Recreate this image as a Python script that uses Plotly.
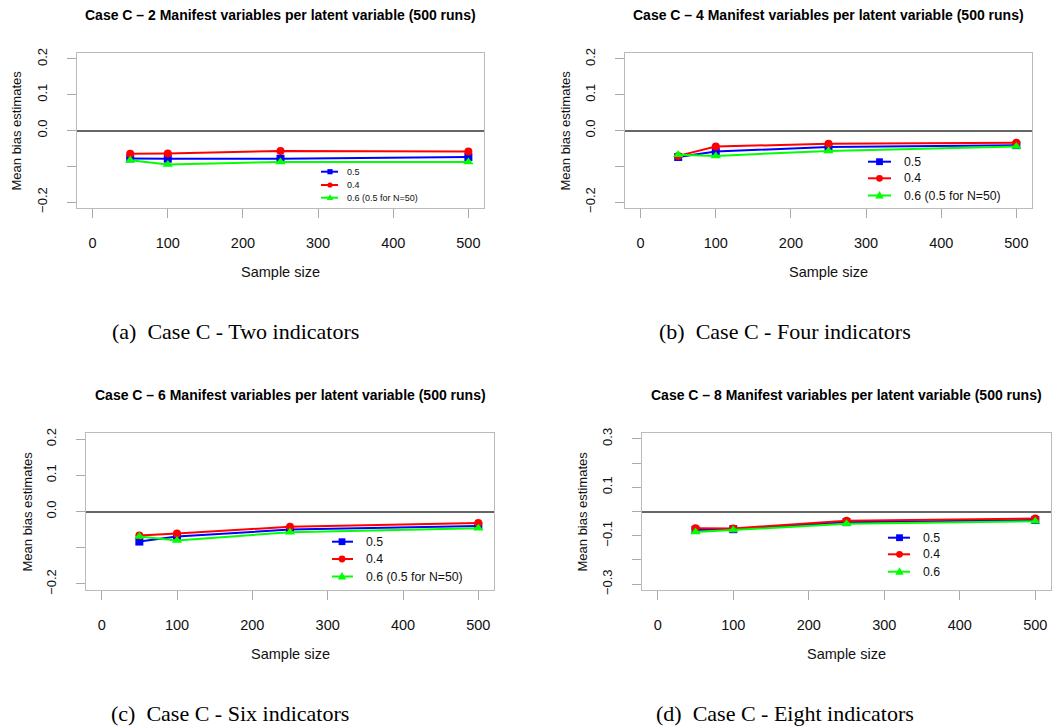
import plotly.graph_objects as go

# The page body has an 8px margin, so the figure is drawn 8px in from the
# window's top-left corner; pixel positions below are window pixels.
OFF = 8
W, H = 1060 - OFF, 727 - OFF

# ---------------- data ----------------
sample_size = [50, 100, 250, 500]
x_ticks = [0, 100, 200, 300, 400, 500]

# (a) two indicators
a_05 = [-0.078, -0.079, -0.079, -0.074]
a_04 = [-0.065, -0.064, -0.057, -0.059]
a_06 = [-0.083, -0.095, -0.088, -0.088]
# (b) four indicators
b_05 = [-0.074, -0.059, -0.046, -0.041]
b_04 = [-0.071, -0.045, -0.037, -0.034]
b_06 = [-0.068, -0.071, -0.057, -0.045]
# (c) six indicators
c_05 = [-0.083, -0.069, -0.050, -0.040]
c_04 = [-0.066, -0.061, -0.042, -0.032]
c_06 = [-0.069, -0.080, -0.057, -0.046]
# (d) eight indicators
d_05 = [-0.076, -0.073, -0.044, -0.035]
d_04 = [-0.069, -0.070, -0.038, -0.029]
d_06 = [-0.085, -0.076, -0.051, -0.040]

legend_labels_abc = ["0.5", "0.4", "0.6 (0.5 for N=50)"]
legend_labels_d = ["0.5", "0.4", "0.6"]

titles = [
    "Case C \u2013 2 Manifest variables per latent variable (500 runs)",
    "Case C \u2013 4 Manifest variables per latent variable (500 runs)",
    "Case C \u2013 6 Manifest variables per latent variable (500 runs)",
    "Case C \u2013 8 Manifest variables per latent variable (500 runs)",
]
captions = [
    "(a)\u00a0\u00a0Case C - Two indicators",
    "(b)\u00a0\u00a0Case C - Four indicators",
    "(c)\u00a0\u00a0Case C - Six indicators",
    "(d)\u00a0\u00a0Case C - Eight indicators",
]
y_tickvals_small = [-0.2, -0.1, 0.0, 0.1, 0.2]
y_ticktext_small = ["\u22120.2", "", "0.0", "0.1", "0.2"]
y_tickvals_large = [-0.3, -0.2, -0.1, 0.0, 0.1, 0.2, 0.3]
y_ticktext_large = ["\u22120.3", "", "\u22120.1", "", "0.1", "", "0.3"]

colors = ["#0000FF", "#FF0000", "#00FF00"]
symbols = ["square", "circle", "triangle-up"]

panels = [
    dict(series=[a_05, a_04, a_06], box=(77, 484, 53, 208), yr=0.2167,
         tv=y_tickvals_small, tt=y_ticktext_small, labels=legend_labels_abc,
         leg=dict(l0=321, l1=338, mc=330, tx=345, ys=[171.7, 185.0, 197.7], fs=9, ms=2.6),
         ytitle_x=16, cap_x=235),
    dict(series=[b_05, b_04, b_06], box=(625, 1032, 53, 208), yr=0.2167,
         tv=y_tickvals_small, tt=y_ticktext_small, labels=legend_labels_abc,
         leg=dict(l0=868, l1=891, mc=879.5, tx=902, ys=[161.7, 178.3, 195.5], fs=12.3, ms=3.4),
         ytitle_x=565, cap_x=785),
    dict(series=[c_05, c_04, c_06], box=(86, 494, 433, 590), yr=0.2167,
         tv=y_tickvals_small, tt=y_ticktext_small, labels=legend_labels_abc,
         leg=dict(l0=332, l1=353, mc=342, tx=364, ys=[541.7, 559.0, 576.5], fs=12.3, ms=3.4),
         ytitle_x=27, cap_x=230),
    dict(series=[d_05, d_04, d_06], box=(642, 1051, 433, 590), yr=0.324,
         tv=y_tickvals_large, tt=y_ticktext_large, labels=legend_labels_d,
         leg=dict(l0=888, l1=910, mc=899.5, tx=920.5, ys=[537.7, 554.3, 571.7], fs=12.3, ms=3.4),
         ytitle_x=582, cap_x=785),
]

FONT = "Liberation Sans, Arial, Helvetica, sans-serif"
SERIF = "Liberation Serif, Times New Roman, serif"


def px(x):
    return (x - OFF) / W


def py(y):
    return 1 - (y - OFF) / H


fig = go.Figure()
layout = dict(
    width=W, height=H, margin=dict(l=0, r=0, t=0, b=0, pad=0, autoexpand=False),
    paper_bgcolor="white", plot_bgcolor="white", showlegend=False,
    font=dict(family=FONT, color="black"),
)
annotations = []
shapes = []

for i, p in enumerate(panels):
    k = "" if i == 0 else str(i + 1)
    l, r, t, b = p["box"]
    layout["xaxis" + k] = dict(
        domain=[px(l), px(r)], anchor="y" + k, range=[-20.8, 520.8], automargin=False,
        tickmode="array", tickvals=x_ticks, ticks="outside", ticklen=9,
        tickcolor="#aaaaaa", tickwidth=1, showline=True, mirror=True,
        linecolor="#bbbbbb", linewidth=1, showgrid=False, zeroline=False,
        tickfont=dict(size=14.5, family=FONT, color="#111111"), ticklabelstandoff=13,
    )
    layout["yaxis" + k] = dict(
        domain=[py(b), py(t)], anchor="x" + k, range=[-p["yr"], p["yr"]], automargin=False,
        tickmode="array", tickvals=p["tv"], ticktext=p["tt"], tickangle=-90,
        ticks="outside", ticklen=9, tickcolor="#aaaaaa", tickwidth=1,
        showline=True, mirror=True, linecolor="#bbbbbb", linewidth=1,
        showgrid=False, zeroline=True, zerolinecolor="#666666", zerolinewidth=1.5,
        tickfont=dict(size=13, family=FONT, color="#111111"), ticklabelstandoff=15,
    )
    for vals, col, sym, lab in zip(p["series"], colors, symbols, p["labels"]):
        fig.add_trace(go.Scatter(
            x=sample_size, y=vals, mode="lines+markers", name=lab,
            xaxis="x" + k, yaxis="y" + k,
            line=dict(color=col, width=2),
            marker=dict(symbol=sym, size=9 if sym == "triangle-up" else 8, color=col),
            showlegend=False,
        ))
    cx = (l + r) / 2
    # main title
    annotations.append(dict(text="<b>" + titles[i] + "</b>", x=px(cx), y=py(t - 38),
                            xref="paper", yref="paper", showarrow=False,
                            xanchor="center", yanchor="middle",
                            font=dict(size=14, family=FONT, color="black")))
    # x title
    annotations.append(dict(text="Sample size", x=px(cx), y=py(b + 64),
                            xref="paper", yref="paper", showarrow=False,
                            xanchor="center", yanchor="middle",
                            font=dict(size=14.5, family=FONT, color="#111111")))
    # y title
    annotations.append(dict(text="Mean bias estimates", x=px(p["ytitle_x"]), y=py((t + b) / 2),
                            xref="paper", yref="paper", showarrow=False, textangle=-90,
                            xanchor="center", yanchor="middle",
                            font=dict(size=13, family=FONT, color="#111111")))
    # caption
    annotations.append(dict(text=captions[i], x=px(p["cap_x"]), y=py(b + 123),
                            xref="paper", yref="paper", showarrow=False,
                            xanchor="center", yanchor="middle",
                            font=dict(size=22, family=SERIF, color="black")))
    # legend (R style, no box)
    lg = p["leg"]
    s = lg["ms"]
    for j, (col, lab) in enumerate(zip(colors, p["labels"])):
        yy = lg["ys"][j]
        shapes.append(dict(type="line", xref="paper", yref="paper",
                           x0=px(lg["l0"]), x1=px(lg["l1"]), y0=py(yy), y1=py(yy),
                           line=dict(color=col, width=2)))
        if j == 0:
            shapes.append(dict(type="rect", xref="paper", yref="paper",
                               x0=px(lg["mc"] - s), x1=px(lg["mc"] + s),
                               y0=py(yy + s), y1=py(yy - s),
                               fillcolor=col, line=dict(width=0)))
        elif j == 1:
            shapes.append(dict(type="circle", xref="paper", yref="paper",
                               x0=px(lg["mc"] - s), x1=px(lg["mc"] + s),
                               y0=py(yy + s), y1=py(yy - s),
                               fillcolor=col, line=dict(width=0)))
        else:
            tw = s * 1.25
            path = "M {} {} L {} {} L {} {} Z".format(
                px(lg["mc"] - tw), py(yy + s * 0.9),
                px(lg["mc"] + tw), py(yy + s * 0.9),
                px(lg["mc"]), py(yy - s * 1.3))
            shapes.append(dict(type="path", xref="paper", yref="paper", path=path,
                               fillcolor=col, line=dict(width=0)))
        annotations.append(dict(text=lab, x=px(lg["tx"]), y=py(yy),
                                xref="paper", yref="paper", showarrow=False,
                                xanchor="left", yanchor="middle",
                                font=dict(size=lg["fs"], family=FONT, color="#111111")))

layout["annotations"] = annotations
layout["shapes"] = shapes
fig.update_layout(**layout)
fig.write_html("out.html")
